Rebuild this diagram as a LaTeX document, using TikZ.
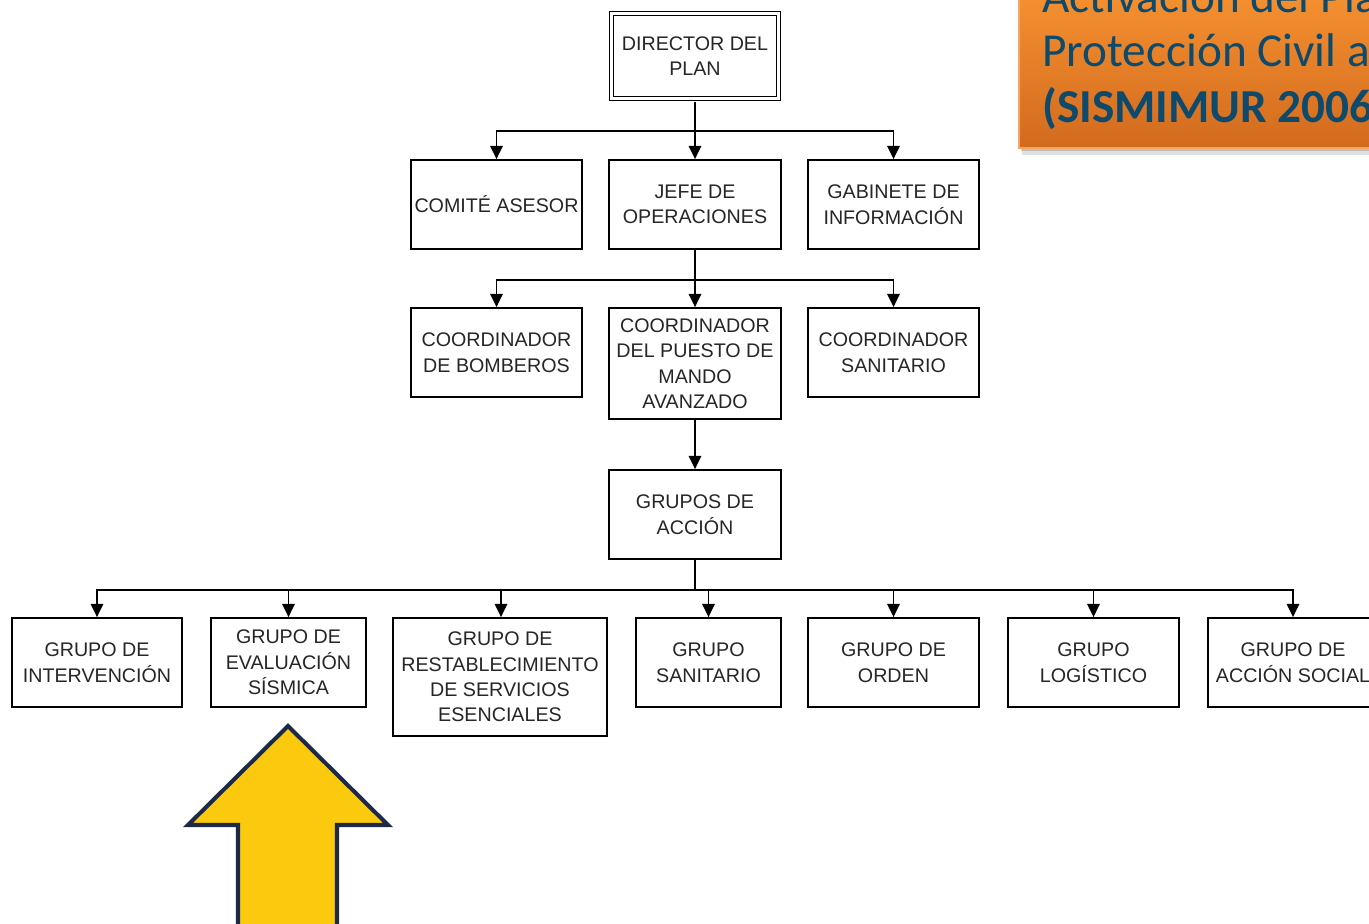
\documentclass[tikz,border=0pt]{standalone}
\usepackage{fontspec}
\setmainfont{Liberation Sans}
\newfontfamily\calib{Carlito}
\usetikzlibrary{arrows.meta}
\definecolor{orgtop}{RGB}{248,148,50}
\definecolor{orgbot}{RGB}{210,106,30}
\definecolor{orgedge}{RGB}{246,166,96}
\definecolor{titleblue}{RGB}{14,74,108}
\definecolor{arrowyellow}{RGB}{251,201,14}
\definecolor{arrownavy}{RGB}{28,42,72}
\tikzset{
  box/.style={draw=black, line width=1pt, rectangle, align=center, inner sep=1pt,
    font=\fontsize{11.2}{14.5}\selectfont, text=black!85},
  conn/.style={line width=1.1pt, draw=black},
  arr/.style={conn, -{Triangle[width=7pt,length=7.5pt]}},
}
\begin{document}
\begin{tikzpicture}[x=0.02cm,y=-0.02cm]
\useasboundingbox (0,0) rectangle (1369,923);
\clip (0,0) rectangle (1369,923);
\fill[white] (0,0) rectangle (1369,923);

% orange title box
\fill[black, opacity=0.12] (1022,-20) rectangle (1400,155);
\fill[black, opacity=0.15] (1021,-20) rectangle (1400,151);
\shade[top color=orgtop, bottom color=orgbot, draw=orgedge, line width=1.2pt] (1019,-20) rectangle (1400,148);
\node[anchor=base west, inner sep=0, text=titleblue, font=\calib\fontsize{26.9}{32}\selectfont] (t1) at (1042,12) {Activación del Plan de};
\node[anchor=base west, inner sep=0, text=titleblue, font=\calib\fontsize{26.9}{32}\selectfont] (t2) at (1042,66) {Protección Civil ante};
\node[anchor=base west, inner sep=0, text=titleblue, font=\calib\bfseries\fontsize{26.9}{32}\selectfont] (t3) at (1042,122) {(SISMIMUR 2006)};

% level 1
\node[box, double, double distance=1.3pt, line width=1pt, minimum width=3.34cm, minimum height=1.70cm] (director) at (695,56) {DIRECTOR DEL\\PLAN};

% level 2
\node[box, minimum width=3.42cm, minimum height=1.78cm] (comite) at (496.5,204.5) {COMITÉ ASESOR};
\node[box, minimum width=3.44cm, minimum height=1.78cm] (jefe) at (695,204.5) {JEFE DE\\OPERACIONES};
\node[box, minimum width=3.42cm, minimum height=1.78cm] (gabinete) at (893.5,204.5) {GABINETE DE\\INFORMACIÓN};

% level 3
\node[box, minimum width=3.42cm, minimum height=1.78cm] (bomberos) at (496.5,352.5) {COORDINADOR\\DE BOMBEROS};
\node[box, minimum width=3.44cm, minimum height=2.22cm] (pma) at (695,363.5) {COORDINADOR\\DEL PUESTO DE\\MANDO\\AVANZADO};
\node[box, minimum width=3.42cm, minimum height=1.78cm] (csanitario) at (893.5,352.5) {COORDINADOR\\SANITARIO};

% level 4
\node[box, minimum width=3.44cm, minimum height=1.78cm] (grupos) at (695,514.5) {GRUPOS DE\\ACCIÓN};

% level 5
\node[box, minimum width=3.40cm, minimum height=1.78cm] (intervencion) at (97,662.5) {GRUPO DE\\INTERVENCIÓN};
\node[box, minimum width=3.10cm, minimum height=1.78cm] (evaluacion) at (288.5,662.5) {GRUPO DE\\EVALUACIÓN\\SÍSMICA};
\node[box, minimum width=4.28cm, minimum height=2.36cm] (restab) at (500,677) {GRUPO DE\\RESTABLECIMIENTO\\DE SERVICIOS\\ESENCIALES};
\node[box, minimum width=2.90cm, minimum height=1.78cm] (gsanitario) at (708.5,662.5) {GRUPO\\SANITARIO};
\node[box, minimum width=3.42cm, minimum height=1.78cm] (orden) at (893.5,662.5) {GRUPO DE\\ORDEN};
\node[box, minimum width=3.42cm, minimum height=1.78cm] (logistico) at (1093.5,662.5) {GRUPO\\LOGÍSTICO};
\node[box, minimum width=3.40cm, minimum height=1.78cm] (social) at (1293,662.5) {GRUPO DE\\ACCIÓN SOCIAL};

% connectors
\coordinate (b1) at (695,131);
\draw[conn] ([yshift=-1.6pt]director.south) -- (b1);
\draw[arr] (b1) -| (comite.north);
\draw[arr] (b1) -- (jefe.north);
\draw[arr] (b1) -| (gabinete.north);

\coordinate (b2) at (695,280);
\draw[conn] (jefe.south) -- (b2);
\draw[arr] (b2) -| (bomberos.north);
\draw[arr] (b2) -- (pma.north);
\draw[arr] (b2) -| (csanitario.north);

\draw[arr] (pma.south) -- (grupos.north);

\coordinate (b3) at (695,590);
\draw[conn] (grupos.south) -- (b3);
\draw[arr] (b3) -| (intervencion.north);
\draw[arr] (b3) -| (evaluacion.north);
\draw[arr] (b3) -| ([xshift=0.02cm]restab.north);
\draw[arr] (b3) -| (gsanitario.north);
\draw[arr] (b3) -| (orden.north);
\draw[arr] (b3) -| (logistico.north);
\draw[arr] (b3) -| (social.north);

% yellow pointer arrow
\draw[fill=arrowyellow, draw=arrownavy, line width=2.3pt, line join=miter]
  (288,726) -- (388,825) -- (337,825) -- (337,945) -- (238,945) -- (238,825) -- (188,825) -- cycle;
\end{tikzpicture}
\end{document}
